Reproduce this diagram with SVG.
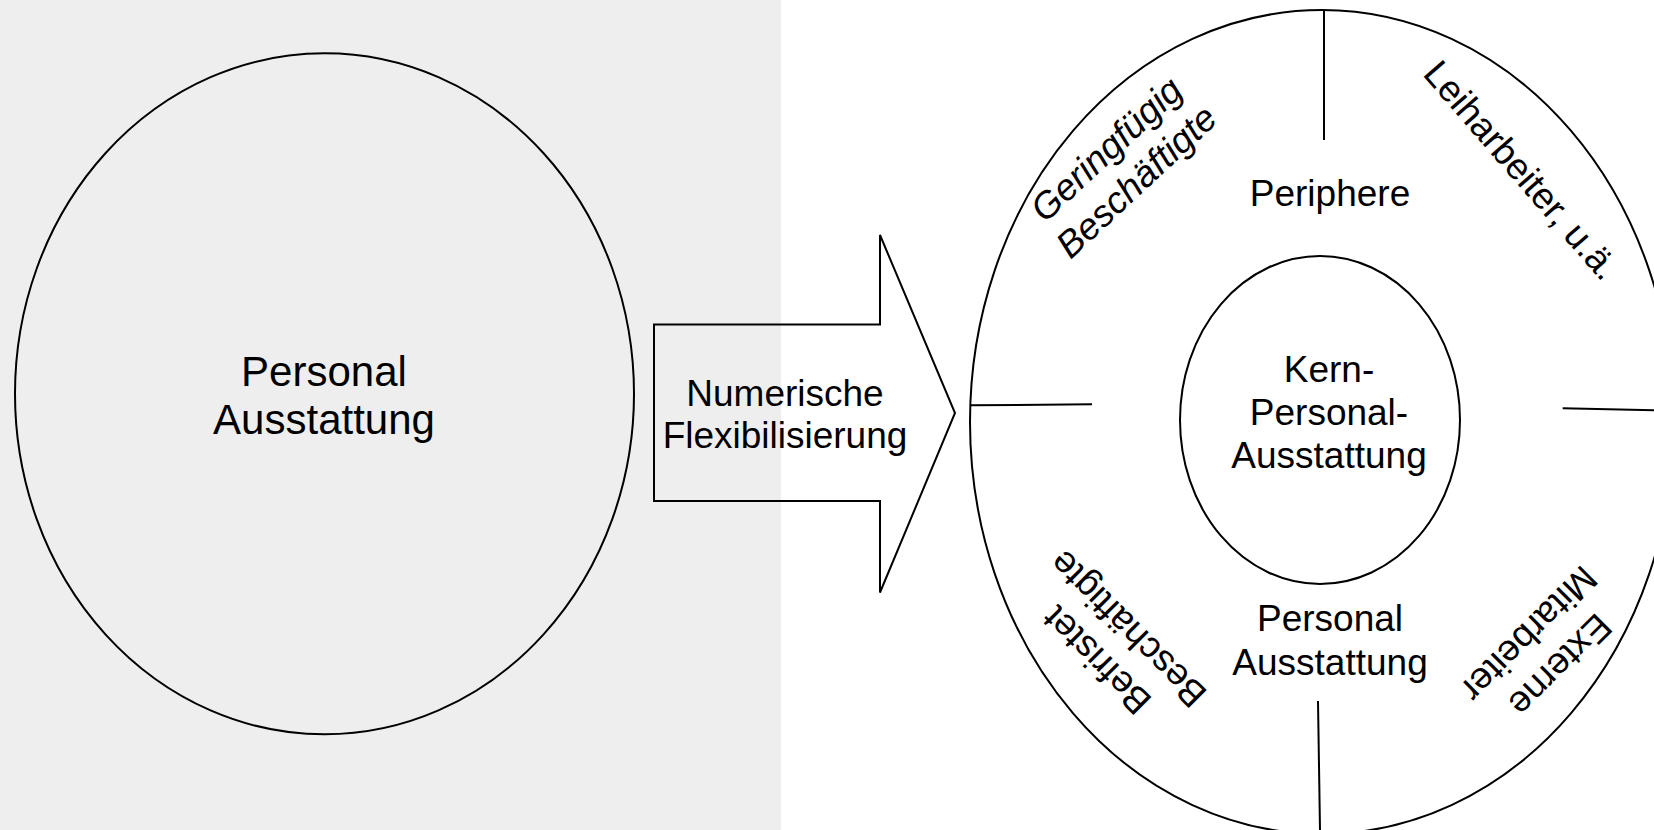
<svg xmlns="http://www.w3.org/2000/svg" width="1654" height="830" viewBox="0 0 1654 830">
<style>
.ln{fill:none;stroke:#000;stroke-width:2}
.t{font-family:"Liberation Sans",Arial,sans-serif;font-size:37px;fill:#000;text-anchor:middle}
.big{font-size:42px}
.it{font-style:italic}
</style>
<rect x="0" y="0" width="1654" height="830" fill="#ffffff"/>
<rect x="0" y="0" width="781" height="830" fill="#eeeeee"/>
<g id="left-circle">
<ellipse class="ln" cx="324.5" cy="393.8" rx="309.5" ry="340.5"/>
<text class="t big" x="324" y="386">Personal</text>
<text class="t big" x="324" y="434">Ausstattung</text>
</g>
<g id="arrow">
<polygon class="ln" points="654,324.5 880,324.5 880,235 955,413 880,592.5 880,501 654,501"/>
<text class="t" x="785" y="406">Numerische</text>
<text class="t" x="785" y="448">Flexibilisierung</text>
</g>
<g id="outer-ring">
<ellipse class="ln" cx="1322" cy="422" rx="352" ry="412"/>
<text class="t" x="1330" y="206">Periphere</text>
<text class="t" x="1330" y="631">Personal</text>
<text class="t" x="1330" y="675">Ausstattung</text>
</g>
<g id="inner-core">
<ellipse class="ln" cx="1320" cy="420" rx="140" ry="164"/>
<text class="t" x="1329" y="382">Kern-</text>
<text class="t" x="1329" y="425">Personal-</text>
<text class="t" x="1329" y="468">Ausstattung</text>
</g>
<g id="seg-geringfuegig" transform="translate(1121,165) rotate(-43)">
<text class="t it" x="0" y="-9">Geringfügig</text>
<text class="t it" x="0" y="35">Beschäftigte</text>
</g>
<g id="seg-leiharbeiter" transform="translate(1522,170) rotate(49)">
<text class="t" x="0" y="13">Leiharbeiter, u.ä.</text>
</g>
<g id="seg-befristet" transform="translate(1112,645) rotate(-135)">
<text class="t" x="0" y="-9">Befristet</text>
<text class="t" x="0" y="35">Beschäftigte</text>
</g>
<g id="seg-externe" transform="translate(1545,650) rotate(135)">
<text class="t" x="0" y="-9">Externe</text>
<text class="t" x="0" y="35">Mitarbeiter</text>
</g>
<g id="connectors">
<line class="ln" x1="1324" y1="11" x2="1324" y2="140"/>
<line class="ln" x1="1318" y1="701" x2="1320" y2="830"/>
<line class="ln" x1="970" y1="405.3" x2="1092" y2="404.3"/>
<line class="ln" x1="1562.7" y1="408.3" x2="1654" y2="410.3"/>
</g>
</svg>
